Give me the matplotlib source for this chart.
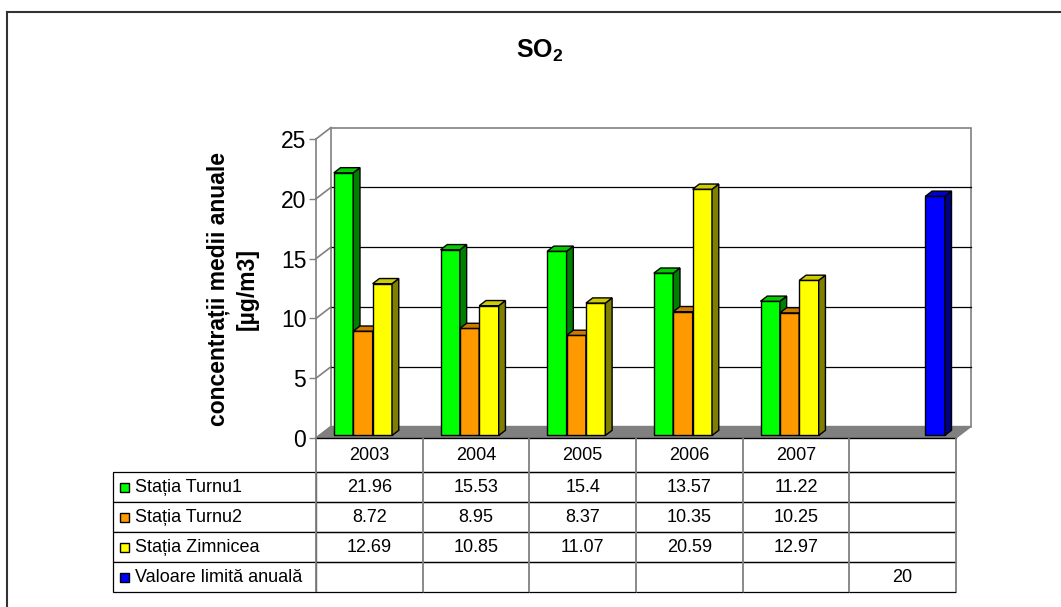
import matplotlib.pyplot as plt
from matplotlib.patches import Polygon, Rectangle
from matplotlib.lines import Line2D
from matplotlib.colors import to_rgb
from matplotlib.table import Table
from matplotlib.transforms import blended_transform_factory

plt.rcParams['font.family'] = ['Liberation Sans', 'DejaVu Sans']
plt.rcParams['mathtext.fontset'] = 'custom'
plt.rcParams['mathtext.bf'] = 'Liberation Sans:bold'
plt.rcParams['mathtext.rm'] = 'Liberation Sans'

# annual means per station, last column holds the annual limit value
years = ['2003', '2004', '2005', '2006', '2007', '']
series_names = ['Stația Turnu1', 'Stația Turnu2', 'Stația Zimnicea',
                'Valoare limită anuală']
turnu1 = [21.96, 15.53, 15.4, 13.57, 11.22, None]
turnu2 = [8.72, 8.95, 8.37, 10.35, 10.25, None]
zimnicea = [12.69, 10.85, 11.07, 20.59, 12.97, None]
limita = [None, None, None, None, None, 20]
series = [turnu1, turnu2, zimnicea, limita]
colors = ['#00ff00', '#ff9900', '#ffff00', '#0000ff']
yticks = [0, 5, 10, 15, 20, 25]

W, H = 1061, 607
fig = plt.figure(figsize=(W / 100, H / 100), dpi=100)
# front plane of the 3D box, in pixels: x 316..956, y(0)=438, y(25)=139
ax = fig.add_axes([316 / W, (H - 438) / H, 640 / W, 299 / H])
ax.set_xlim(0, len(years))
ax.set_ylim(0, 25)
ax.patch.set_visible(False)

# depth of the box, converted from pixels into data units
ncat = len(years)
DX = 15 / (640 / ncat)
DY = 11.5 / (299 / 25)
X1 = ncat

wall = dict(color='#808080', lw=1.2, clip_on=False)
ax.add_patch(Polygon([(DX, DY), (X1 + DX, DY), (X1 + DX, 25 + DY), (DX, 25 + DY)],
                     closed=True, facecolor='white', edgecolor='#808080',
                     lw=1.2, zorder=0.5, clip_on=False))
for y in yticks[1:-1]:
    ax.plot([DX, X1 + DX], [y + DY, y + DY], color='black', lw=0.9,
            zorder=0.6, clip_on=False)
for y in yticks:
    ax.plot([0, DX], [y, y + DY], zorder=0.7, **wall)
# floor
ax.add_patch(Polygon([(0, 0), (X1, 0), (X1 + DX, DY), (DX, DY)], closed=True,
                     facecolor='#808080', edgecolor='#808080', lw=1,
                     zorder=1, clip_on=False))

# clustered 3D bars
nser = len(series)
w = 1 / (nser + 1.5)
margin = 0.75 * w
f0, fd = 0.22, 0.45
for s, (vals, col) in enumerate(zip(series, colors)):
    idx = [i for i, v in enumerate(vals) if v is not None]
    hs = [vals[i] for i in idx]
    xs = [i + margin + s * w + f0 * DX for i in idx]
    bars = ax.bar(xs, hs, width=w, bottom=f0 * DY, align='edge', color=col,
                  edgecolor='black', lw=1, zorder=3 + 2 * s, clip_on=False)
    rgb = to_rgb(col)
    side = tuple(c * 0.5 for c in rgb)
    top = tuple(c * 0.8 for c in rgb)
    ddx, ddy = fd * DX, fd * DY
    for rect in bars:
        l = rect.get_x()
        r = l + rect.get_width()
        b = rect.get_y()
        t = b + rect.get_height()
        ax.add_patch(Polygon([(r, b), (r + ddx, b + ddy), (r + ddx, t + ddy), (r, t)],
                             closed=True, facecolor=side, edgecolor='black',
                             lw=1, zorder=3.5 + 2 * s, clip_on=False))
        ax.add_patch(Polygon([(l, t), (r, t), (r + ddx, t + ddy), (l + ddx, t + ddy)],
                             closed=True, facecolor=top, edgecolor='black',
                             lw=1, zorder=3.5 + 2 * s, clip_on=False))

# axes
for side_name in ['top', 'right']:
    ax.spines[side_name].set_visible(False)
ax.spines['left'].set_color('#808080')
ax.spines['left'].set_linewidth(1.2)
ax.spines['bottom'].set_color('black')
ax.set_xticks([])
ax.set_yticks(yticks)
ax.tick_params(axis='y', length=5, width=1, color='#808080', labelsize=16.5, pad=2)
ax.set_ylabel('concentrații medii anuale\n[µg/m3]', fontsize=16.5,
              fontweight='bold', linespacing=1.3)
ax.yaxis.set_label_coords(-0.09, 0.5)

# data table under the plot (row labels sit left of the bbox)
px_x = 640
px_y = 299
label_w = 203
row_h = [34, 30, 30, 30, 30]
tbl_h = sum(row_h) / px_y
table = Table(ax, bbox=[0, -tbl_h, 1, tbl_h])
for c, yr in enumerate(years):
    table.add_cell(0, c, width=1 / ncat, height=row_h[0] / px_y, text=yr,
                   loc='center')
for r, (name, vals) in enumerate(zip(series_names, series), start=1):
    cell = table.add_cell(r, -1, width=label_w / px_x, height=row_h[r] / px_y,
                          text=name, loc='left')
    cell.PAD = 0.108
    for c, v in enumerate(vals):
        table.add_cell(r, c, width=1 / ncat, height=row_h[r] / px_y,
                       text=f'{v:g}' if v is not None else '', loc='center')
table.auto_set_font_size(False)
table.set_fontsize(13)
table.set_zorder(11)
for (r, c), cell in table.get_celld().items():
    cell.set_linewidth(0.9)
    cell.set_edgecolor('black')
    cell.visible_edges = 'closed' if c == -1 else 'horizontal'
ax.add_table(table)

trans = blended_transform_factory(ax.transData, ax.transAxes)
ax.vlines(range(ncat + 1), -tbl_h, 0, transform=trans, colors='#808080',
          lw=1.3, zorder=12, clip_on=False)

# legend keys inside the row labels
y_top = -row_h[0] / px_y
for k, col in enumerate(colors):
    yc = y_top - (sum(row_h[1:k + 1]) + row_h[k + 1] / 2) / px_y
    ax.add_patch(Rectangle(((120 - 316) / px_x, yc - 4.5 / px_y), 9 / px_x, 9 / px_y,
                           transform=ax.transAxes, facecolor=col,
                           edgecolor='black', lw=1, zorder=13, clip_on=False))

fig.text(540 / W, 1 - 58 / H, r'$\mathbf{SO_2}$', ha='center', va='baseline',
         fontsize=18)

# chart area border
fig.add_artist(Line2D([7 / W, 1], [1 - 12 / H, 1 - 12 / H],
                      transform=fig.transFigure, color='#333333', lw=1.5))
fig.add_artist(Line2D([7 / W, 7 / W], [0, 1 - 12 / H],
                      transform=fig.transFigure, color='#333333', lw=1.5))

fig.savefig('out.png', dpi=100, facecolor='white')
